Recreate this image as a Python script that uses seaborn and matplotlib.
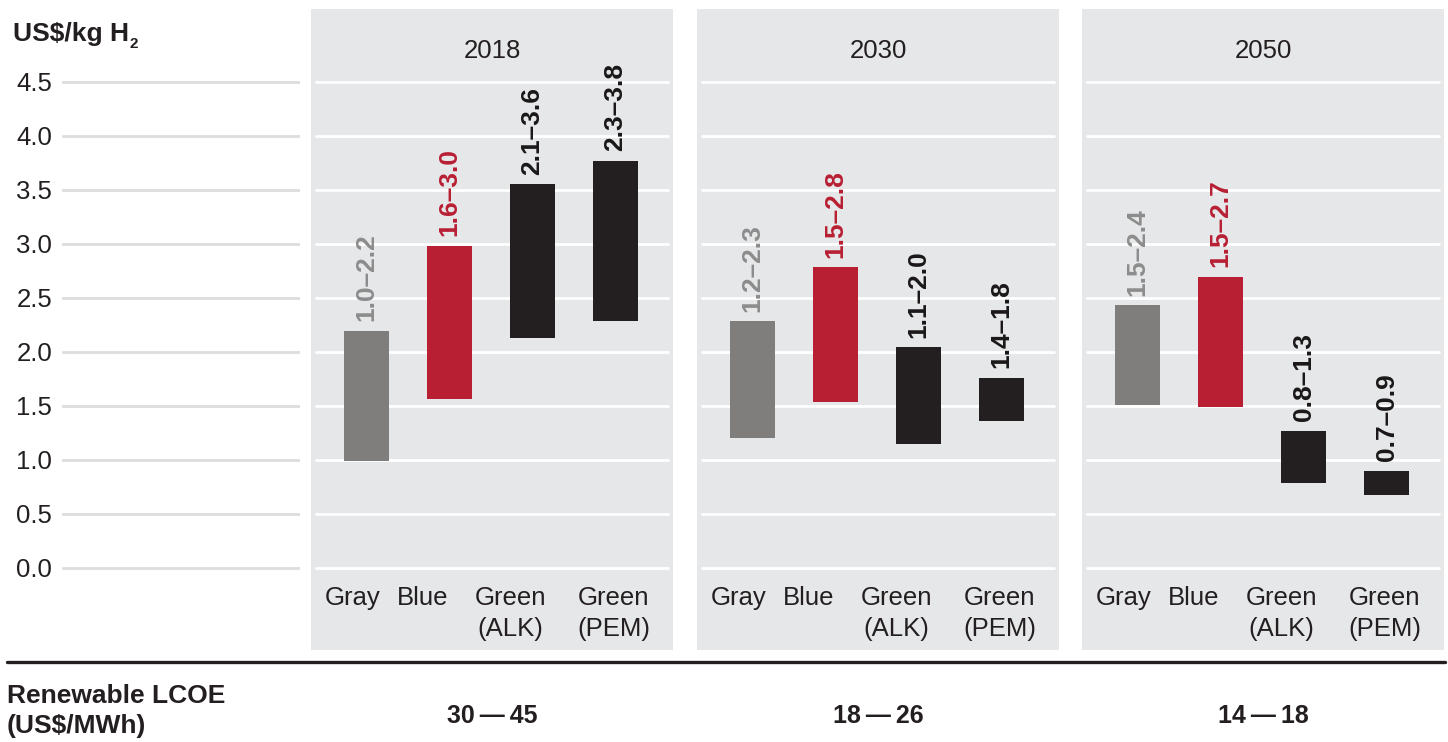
import matplotlib
matplotlib.use("Agg")
import matplotlib.pyplot as plt
import seaborn as sns
import numpy as np
import pandas as pd
from matplotlib.lines import Line2D

# ---------------- data ----------------
years = ["2018", "2030", "2050"]
categories = ["Gray", "Blue", "Green (ALK)", "Green (PEM)"]
category_labels = ["Gray", "Blue", "Green\n(ALK)", "Green\n(PEM)"]

low_2018 = [0.99, 1.56, 2.13, 2.28]
high_2018 = [2.19, 2.98, 3.55, 3.77]
low_2030 = [1.20, 1.53, 1.15, 1.36]
high_2030 = [2.28, 2.78, 2.04, 1.76]
low_2050 = [1.51, 1.49, 0.78, 0.67]
high_2050 = [2.43, 2.69, 1.27, 0.90]

range_labels_2018 = ["1.0–2.2", "1.6–3.0", "2.1–3.6", "2.3–3.8"]
range_labels_2030 = ["1.2–2.3", "1.5–2.8", "1.1–2.0", "1.4–1.8"]
range_labels_2050 = ["1.5–2.4", "1.5–2.7", "0.8–1.3", "0.7–0.9"]

lcoe_labels = ["30\u2009\u2014\u200945", "18\u2009\u2014\u200926", "14\u2009\u2014\u200918"]
y_ticks = [0.0, 0.5, 1.0, 1.5, 2.0, 2.5, 3.0, 3.5, 4.0, 4.5]
y_title = "US$/kg H"
y_title_sub = "2"
footer_title = ["Renewable LCOE", "(US$/MWh)"]

lows = [low_2018, low_2030, low_2050]
highs = [high_2018, high_2030, high_2050]
range_labels = [range_labels_2018, range_labels_2030, range_labels_2050]

# ---------------- style ----------------
bar_colors = ["#7f7e7c", "#b81f33", "#231f20", "#231f20"]
label_colors = ["#8c8c8c", "#b81f33", "#1a1718", "#1a1718"]
text_color = "#231f20"
panel_bg = "#e6e7e8"

sns.set_style("white")
plt.rcParams["font.family"] = ["Liberation Sans", "DejaVu Sans"]

W, H = 1448, 742
def fy(px):
    return 1 - px / H

fig = plt.figure(figsize=(W / 100, H / 100), dpi=100)
fig.patch.set_facecolor("white")

ax_bottom = fy(650)
ax_h = (650 - 9) / H
ylim = (-(650 - 567.7) / 108, (567.7 - 9) / 108)
panel_lefts = [311, 697, 1082]
panel_w = 362
xlim = (-0.669, 3.692)
label_shift = [-0.17, -0.32, -0.27, -0.02]

for k, year in enumerate(years):
    left = panel_lefts[k]
    ax = fig.add_axes([left / W, ax_bottom, panel_w / W, ax_h])
    ax.set_facecolor(panel_bg)
    df = pd.DataFrame({
        "cat": categories,
        "low": lows[k],
        "height": np.array(highs[k]) - np.array(lows[k]),
    })
    sns.barplot(data=df, x="cat", y="height", bottom=df["low"].values,
                order=categories, width=0.542, color=bar_colors[0],
                errorbar=None, ax=ax, zorder=3, linewidth=0)
    for p, c in zip(ax.patches, bar_colors):
        p.set_facecolor(c)
        p.set_edgecolor("none")
    for yv in y_ticks:
        ax.axhline(yv, xmin=5 / panel_w, xmax=357 / panel_w, color="white",
                   lw=2.0, zorder=1)
    ax.set_xlim(xlim)
    ax.set_ylim(ylim)
    ax.set_xticks([])
    ax.set_yticks([])
    ax.set_xlabel("")
    ax.set_ylabel("")
    for s in ax.spines.values():
        s.set_visible(False)
    ax.text(0.5, (650 - 58) / 641, year, transform=ax.transAxes, ha="center",
            va="baseline", fontsize=18.5, color=text_color)
    for i, lab in enumerate(category_labels):
        ax.text(i + label_shift[i], -0.165, lab, ha="center", va="top",
                fontsize=18.5, color=text_color, linespacing=1.37,
                multialignment="center")
    for i, lab in enumerate(range_labels[k]):
        ax.annotate(lab, xy=(i, highs[k][i]), xytext=(0, 7),
                    textcoords="offset points", rotation=90, ha="center",
                    va="bottom", fontsize=19, fontweight="bold",
                    color=label_colors[i], zorder=4)
    fig.text((left + panel_w / 2) / W, fy(722.7), lcoe_labels[k], ha="center",
             va="baseline", fontsize=18, fontweight="bold", color=text_color)

# left axis with tick labels and light gridlines
axl = fig.add_axes([62 / W, ax_bottom, 238 / W, ax_h])
axl.set_ylim(ylim)
axl.set_xlim(0, 1)
axl.set_yticks(y_ticks)
axl.set_yticklabels([f"{t:.1f}" for t in y_ticks])
axl.tick_params(axis="y", length=0, pad=7, labelsize=18.5, labelcolor=text_color)
axl.set_xticks([])
axl.grid(axis="y", color="#dcdddf", lw=2.0)
for s in axl.spines.values():
    s.set_visible(False)
axl.patch.set_alpha(0)

t = fig.text(13 / W, fy(40.7), y_title, fontsize=19, fontweight="bold",
             va="baseline", color=text_color)
fig.canvas.draw()
bb = t.get_window_extent()
fig.text((bb.x1 + 1) / W, fy(48.3), y_title_sub, fontsize=11, fontweight="bold",
         va="baseline", color=text_color)

fig.text(7 / W, fy(702.7), footer_title[0], fontsize=19, fontweight="bold",
         va="baseline", color=text_color)
fig.text(7 / W, fy(733), footer_title[1], fontsize=19, fontweight="bold",
         va="baseline", color=text_color)

fig.add_artist(Line2D([7 / W, 1445 / W], [fy(662), fy(662)], color=text_color,
                      lw=2.4))

fig.savefig("out.png", dpi=100)
